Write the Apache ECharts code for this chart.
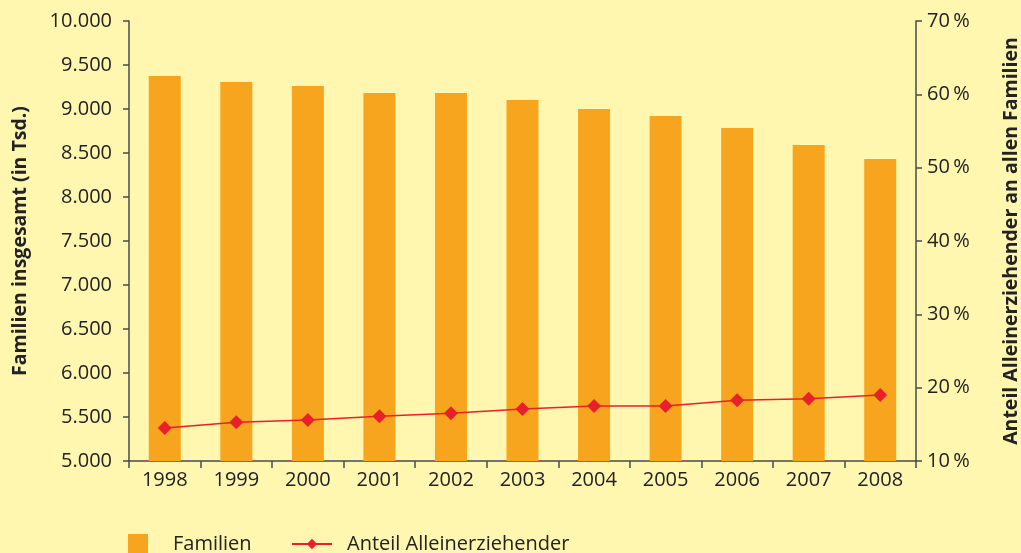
<!DOCTYPE html>
<html>
<head>
<meta charset="utf-8">
<script src="https://cdn.jsdelivr.net/npm/echarts@6/dist/echarts.min.js"></script>
<style>
  html, body { margin: 0; padding: 0; background: #fff6b0; }
  #chart { width: 1021px; height: 553px; }
</style>
</head>
<body>
<div id="chart"></div>
<script>
// Jahre, Familien (in Tsd.) und Anteil Alleinerziehender (%)
var years = ['1998', '1999', '2000', '2001', '2002', '2003', '2004', '2005', '2006', '2007', '2008'];
var familien = [9375, 9307, 9261, 9182, 9182, 9102, 9000, 8920, 8784, 8591, 8432];
var anteil = [14.5, 15.3, 15.6, 16.1, 16.5, 17.1, 17.5, 17.5, 18.3, 18.5, 19.0];

var axisColor = '#4a4a4a';
var textColor = '#222';
var font = 'Open Sans';

var chart = echarts.init(document.getElementById('chart'));
var option = {
  backgroundColor: '#fff6b0',
  animation: false,
  textStyle: { fontFamily: font },
  grid: { left: 129, right: 105, top: 21, bottom: 92, outerBoundsMode: 'none', containLabel: false },
  legend: [
    {
      left: 128, top: 534, padding: 0,
      data: [{ name: 'Familien', icon: 'rect' }],
      itemWidth: 20, itemHeight: 20,
      textStyle: { fontSize: 20, color: textColor, fontFamily: font, padding: [0, 0, 0, 20] }
    },
    {
      left: 291, top: 534, padding: 0,
      data: ['Anteil Alleinerziehender'],
      itemWidth: 40, itemHeight: 13,
      textStyle: { fontSize: 20, color: textColor, fontFamily: font, padding: [0, 0, 0, 10] }
    }
  ],
  xAxis: {
    type: 'category',
    data: years,
    axisLine: { lineStyle: { color: axisColor, width: 1.5 } },
    axisTick: { show: true, length: 7, lineStyle: { color: axisColor, width: 1.5 } },
    axisLabel: { fontSize: 20, color: textColor, margin: 9 }
  },
  yAxis: [
    {
      type: 'value',
      min: 5000, max: 10000, interval: 500,
      name: 'Familien insgesamt (in Tsd.)',
      nameLocation: 'middle',
      nameGap: 99,
      nameRotate: 90,
      nameTextStyle: { fontSize: 19.5, fontWeight: 'bold', color: textColor },
      axisLine: { show: true, lineStyle: { color: axisColor, width: 1.5 } },
      axisTick: { show: true, length: 6, lineStyle: { color: axisColor, width: 1.5 } },
      splitLine: { show: false },
      axisLabel: {
        fontSize: 20, color: textColor, margin: 17,
        formatter: function (v) { return v.toLocaleString('de-DE'); }
      }
    },
    {
      type: 'value',
      min: 10, max: 70, interval: 10,
      name: 'Anteil Alleinerziehender an allen Familien',
      nameLocation: 'middle',
      nameGap: 85,
      nameRotate: 90,
      nameTextStyle: { fontSize: 19.5, fontWeight: 'bold', color: textColor },
      axisLine: { show: true, lineStyle: { color: axisColor, width: 1.5 } },
      axisTick: { show: true, length: 6, lineStyle: { color: axisColor, width: 1.5 } },
      splitLine: { show: false },
      axisLabel: {
        fontSize: 20, color: textColor, margin: 11,
        formatter: function (v) { return v + '\u2009%'; }
      }
    }
  ],
  series: [
    {
      name: 'Familien',
      type: 'bar',
      data: familien,
      barWidth: 32,
      itemStyle: { color: '#f7a51e' }
    },
    {
      name: 'Anteil Alleinerziehender',
      type: 'line',
      yAxisIndex: 1,
      data: anteil,
      symbol: 'diamond',
      symbolSize: 14,
      lineStyle: { color: '#e8202a', width: 1.5 },
      itemStyle: { color: '#e8202a' }
    }
  ]
};
chart.setOption(option);
</script>
</body>
</html>
